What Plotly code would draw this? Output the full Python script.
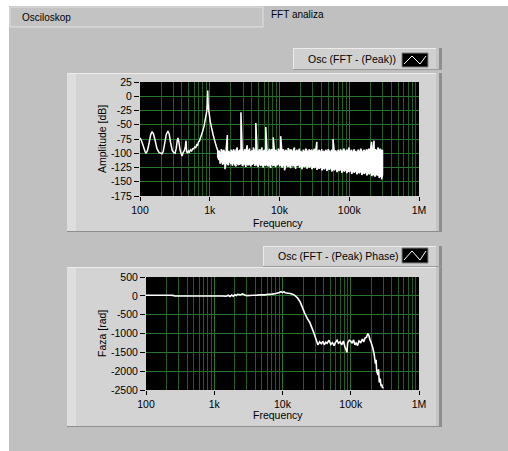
import plotly.graph_objects as go

# ---------------- data ----------------
# Amplitude spectrum, low-frequency part (Hz, dB)
amp_freq_low = [100, 105, 112, 118, 122, 128, 135, 142, 149, 156, 165, 175, 188, 200, 207, 215,
                225, 238, 252, 262, 275, 290, 305, 318, 330, 342, 350, 360, 375, 390, 400, 415,
                430, 445, 457, 465, 480, 495, 510, 530, 550, 570, 590, 610, 630, 650, 670, 690,
                710, 730, 750, 770, 790, 810, 830, 855, 880, 904, 920, 935, 948, 965, 985, 1020,
                1065, 1120, 1190, 1250]
amp_db_low = [-73, -78, -88, -97, -100, -95, -82, -68, -62, -66, -78, -92, -99, -100, -101, -97,
              -84, -67, -61, -66, -82, -95, -99, -100, -92, -78, -73, -79, -94, -101, -105, -99,
              -96, -90, -78, -97, -100, -96, -98, -94, -96, -92, -92, -89, -91, -85, -86, -80,
              -79, -74, -70, -66, -62, -57, -52, -43, -35, -27, -17, 10, -14, -25, -32, -45,
              -56, -68, -80, -89]

# Amplitude spectrum, noise floor part: frequency, upper and lower value of each bin group
noise_freq = [1300, 1350, 1400, 1460, 1520, 1580, 1650, 1720, 1790, 1860, 1940, 2020, 2100, 2190,
              2280, 2380, 2480, 2580, 2690, 2800, 2920, 3040, 3170, 3300, 3440, 3580, 3730, 3890,
              4050, 4220, 4400, 4580, 4770, 4970, 5180, 5400, 5620, 5860, 6100, 6360, 6620, 6900,
              7190, 7490, 7800, 8130, 8470, 8820, 9190, 9580, 9980, 10400, 10800, 11300, 11800,
              12300, 12800, 13300, 13900, 14500, 15100, 15700, 16400, 17100, 17800, 18500, 19300,
              20100, 20900, 21800, 22700, 23700, 24700, 25700, 26800, 27900, 29100, 30300, 31600,
              32900, 34300, 35700, 37200, 38800, 40400, 42100, 43900, 45700, 47600, 49600, 51700,
              53900, 56100, 58500, 60900, 63500, 66100, 68900, 71800, 74800, 77900, 81200, 84600,
              88100, 91800, 95700, 99700, 104000, 108000, 113000, 118000, 123000, 128000, 133000,
              139000, 145000, 151000, 157000, 164000, 171000, 178000, 185000, 193000, 201000,
              209000, 218000, 227000, 237000, 247000, 257000, 268000, 279000, 291000, 300000]
noise_hi = [-95, -95, -100, -93, -97, -94, -99, -92, -68, -96, -99, -94, -97, -93,
            -98, -95, -90, -97, -94, -28, -96, -99, -93, -97, -86, -96, -92, -98,
            -95, -90, -97, -47, -94, -98, -93, -96, -90, -97, -94, -54, -95, -99,
            -92, -96, -93, -72, -97, -94, -98, -92, -95, -70, -96, -93, -98,
            -94, -97, -91, -96, -93, -98, -95, -90, -97, -94, -98, -92,
            -96, -99, -94, -97, -92, -95, -99, -93, -96, -94, -98, -92,
            -96, -80, -97, -94, -99, -93, -96, -98, -94, -97, -93, -96,
            -99, -94, -75, -97, -95, -99, -94, -97, -93, -98, -95, -92,
            -97, -94, -96, -90, -97, -94, -98, -93, -96, -99, -94,
            -97, -92, -96, -99, -94, -97, -93, -96, -92, -95,
            -80, -94, -78, -93, -96, -90, -95, -92, -97, -94]
noise_lo = [-106, -112, -118, -115, -120, -117, -128, -116, -118, -121, -114, -119, -122, -116,
            -120, -123, -117, -121, -119, -118, -122, -120, -117, -124, -119, -121, -118, -123,
            -120, -117, -122, -119, -121, -124, -118, -122, -119, -125, -120, -121, -118, -123,
            -120, -126, -119, -122, -120, -124, -121, -118, -123, -120, -125, -121, -130,
            -122, -119, -124, -121, -126, -120, -123, -121, -127, -122, -120, -125,
            -122, -128, -121, -124, -122, -127, -123, -125, -122, -128, -124, -126,
            -123, -129, -125, -127, -124, -130, -126, -128, -125, -131, -127, -129,
            -126, -132, -128, -130, -127, -133, -129, -131, -128, -134, -130, -132,
            -129, -135, -131, -133, -130, -136, -132, -134, -131, -137, -133,
            -135, -132, -138, -134, -136, -133, -139, -135, -137, -134,
            -140, -136, -138, -141, -137, -139, -143, -140, -146, -138]

# Phase (Hz, rad as labelled)
phase_freq = [100, 120, 150, 180, 220, 250, 260, 300, 400, 500, 700, 1000, 1300, 1500, 1600,
              1700, 1800, 1900, 2000, 2100, 2200, 2400, 2600, 2800, 3000, 3300, 3700, 4200,
              4800, 5500, 6200, 7000, 8000, 9000, 9500, 10000, 10500, 11000, 12000, 13000,
              14000, 15000, 16500, 18000, 19500, 21000, 23000, 25000, 27000, 29000, 31000,
              33000, 35000, 37000, 39000, 41000, 43000, 45000, 48000, 51000, 54000, 57000,
              60000, 63000, 66000, 70000, 74000, 78000, 82000, 86000, 88000, 90000, 95000,
              100000, 105000, 110000, 115000, 120000, 126000, 132000, 140000, 148000, 155000,
              162000, 170000, 178000, 185000, 190000, 200000, 210000, 220000, 230000, 235000,
              240000, 250000, 255000, 262000, 270000, 278000, 285000, 292000, 298000]
phase_val = [15, 15, 14, 15, 14, 12, -5, -5, -6, -5, -6, -5, -5, -10, 15,
             -20, 20, -10, 30, 10, 40, 25, 50, 20, 5, 10, 15, 20,
             30, 25, 40, 45, 60, 90, 110, 85, 110, 80, 70, 60,
             40, 20, -50, -150, -300, -450, -600, -700, -850, -1000, -1150,
             -1300, -1220, -1270, -1210, -1300, -1230, -1260, -1180, -1290, -1240, -1320,
             -1230, -1180, -1260, -1220, -1300, -1200, -1350, -1450, -1500, -1250, -1180,
             -1200, -1260, -1170, -1300, -1250, -1320, -1200, -1240, -1150, -1220,
             -1120, -1100, -1000, -1060, -1150, -1250, -1380, -1550, -1800, -1700,
             -2000, -2100, -1950, -2300, -2200, -2400, -2350, -2450, -2420]

# Axis ticks
x_tick_vals = [100, 1000, 10000, 100000, 1000000]
x_tick_text = ["100", "1k", "10k", "100k", "1M"]
x_minor_vals = [m * d for d in (100, 1000, 10000, 100000) for m in range(2, 10)]
amp_tick_vals = [25, 0, -25, -50, -75, -100, -125, -150, -175]
amp_tick_text = ["25", "0", "-25", "-50", "-75", "-100", "-125", "-150", "-175"]
phase_tick_vals = [500, 0, -500, -1000, -1500, -2000, -2500]
phase_tick_text = ["500", "0", "-500", "-1000", "-1500", "-2000", "-2500"]

assert len(noise_freq) == len(noise_hi) == len(noise_lo)
assert len(amp_freq_low) == len(amp_db_low)
assert len(phase_freq) == len(phase_val)

# build the amplitude trace (min/max pairs for the dense noise part)
amp_x = list(amp_freq_low)
amp_y = list(amp_db_low)
for i, (f, hi, lo) in enumerate(zip(noise_freq, noise_hi, noise_lo)):
    amp_x += [f, f]
    amp_y += ([hi, lo] if i % 2 == 0 else [lo, hi])

# ---------------- figure ----------------
W, H = 508, 451
FONT = "Liberation Sans"
PANEL = "#c0c0c0"


def px(x):
    return x / W


def py(y):
    return 1 - y / H


shapes = []


def rect(x0, y0, x1, y1, fill, line=None, lw=1):
    shapes.append(dict(type="rect", xref="paper", yref="paper", layer="below",
                       x0=px(x0), x1=px(x1), y0=py(y1), y1=py(y0),
                       fillcolor=fill, line=dict(width=lw if line else 0, color=line or fill)))


def hline(x0, x1, y, color, lw=1):
    shapes.append(dict(type="line", xref="paper", yref="paper", layer="below",
                       x0=px(x0), x1=px(x1), y0=py(y), y1=py(y), line=dict(color=color, width=lw)))


def vline(x, y0, y1, color, lw=1):
    shapes.append(dict(type="line", xref="paper", yref="paper", layer="below",
                       x0=px(x), x1=px(x), y0=py(y0), y1=py(y1), line=dict(color=color, width=lw)))


# panel background
rect(9, 6, 508, 451, PANEL)
# tab header
rect(10, 7, 263, 27, "#c3c3c3", "#e2e2e2", 1)


def frame(x0, y0, x1, y1):
    rect(x0, y0, x1, y1, "#d3d3d3")
    rect(x0, y0, x0 + 9, y1, "#dedede")
    hline(x0, x1, y0 + 0.5, "#ececec")
    rect(x1 - 6, y0, x1 - 3, y1, "#c4c4c4")
    rect(x1 - 3, y0, x1, y1, "#8e8e8e")
    hline(x0, x1, y1 - 0.5, "#8e8e8e")


def legend_box(x0, y0, x1, y1):
    rect(x0, y0, x1, y1, "#d0d0d0")
    hline(x0, x1, y0 + 0.5, "#ececec")
    vline(x0 + 0.5, y0, y1, "#ececec")
    rect(x1 - 6, y0, x1 - 3, y1, "#c4c4c4")
    rect(x1 - 3, y0, x1, y1, "#8e8e8e")
    hline(x0, x1, y1 - 0.5, "#9a9a9a")


frame(67, 73, 442, 232)
frame(67, 267, 442, 427)
legend_box(293, 48, 442, 70)
legend_box(263, 246, 442, 267)

# black plot areas
rect(140, 82, 419, 196, "black")
rect(146, 277, 419, 390, "black")


def icon(x0, y0, x1, y1):
    shapes.append(dict(type="rect", xref="paper", yref="paper", layer="above",
                       x0=px(x0), x1=px(x1), y0=py(y1), y1=py(y0),
                       fillcolor="black", line=dict(width=1, color="#808080")))
    xs = [x0 + 2, x0 + 10, x0 + 18, x1 - 2]
    ys = [y1 - 3, y0 + 3, y1 - 3, y0 + 3]
    path = "M " + " L ".join(f"{px(a)},{py(b)}" for a, b in zip(xs, ys))
    shapes.append(dict(type="path", xref="paper", yref="paper", layer="above", path=path,
                       line=dict(color="white", width=1)))


icon(402, 53, 428, 67)
icon(402, 248, 428, 263)

annotations = []


def text(x, y, s, angle=0, size=10, xanchor="left"):
    annotations.append(dict(x=px(x), y=py(y), xref="paper", yref="paper", text=s,
                            showarrow=False, textangle=angle, xanchor=xanchor, yanchor="middle",
                            font=dict(family=FONT, size=size, color="black")))


text(20, 17, "Osciloskop")
text(269, 15, "FFT analiza")
text(306, 59, "Osc (FFT - (Peak))", size=10.5)
text(276, 256, "Osc (FFT - (Peak) Phase)", size=10.5)
text(102, 139, "Amplitude [dB]", angle=-90, xanchor="center", size=10.5)
text(102, 334, "Faza [rad]", angle=-90, xanchor="center", size=10.5)
text(278, 223, "Frequency", xanchor="center", size=10.5)
text(278, 415, "Frequency", xanchor="center", size=10.5)

fig = go.Figure()
fig.add_trace(go.Scatter(x=amp_x, y=amp_y, mode="lines",
                         line=dict(color="white", width=1.5, simplify=False),
                         xaxis="x", yaxis="y", showlegend=False, hoverinfo="skip"))
fig.add_trace(go.Scatter(x=phase_freq, y=phase_val, mode="lines",
                         line=dict(color="white", width=1.6, simplify=False),
                         xaxis="x2", yaxis="y2", showlegend=False, hoverinfo="skip"))

GRID_MAJOR = "#2a732a"
GRID_MINOR = "#225e22"


def xaxis_cfg(x0, x1, anchor):
    return dict(type="log", range=[2, 6], domain=[px(x0), px(x1)], anchor=anchor,
                tickmode="array", tickvals=x_tick_vals, ticktext=x_tick_text,
                ticks="outside", ticklen=4, tickwidth=1, tickcolor="black",
                showgrid=True, gridcolor=GRID_MAJOR, gridwidth=1,
                minor=dict(tickmode="array", tickvals=x_minor_vals, showgrid=True,
                           gridcolor=GRID_MINOR, gridwidth=1, ticks=""),
                showline=False, zeroline=False, fixedrange=True, automargin=False,
                tickfont=dict(family=FONT, size=10.5, color="black"))


def yaxis_cfg(y0, y1, anchor, rng, vals, txt):
    return dict(range=rng, domain=[py(y1), py(y0)], anchor=anchor,
                tickmode="array", tickvals=vals, ticktext=txt,
                ticks="outside", ticklen=5, tickwidth=1, tickcolor="black",
                showgrid=True, gridcolor=GRID_MAJOR, gridwidth=1,
                showline=False, zeroline=False, fixedrange=True, automargin=False,
                tickfont=dict(family=FONT, size=10.5, color="black"))


fig.update_layout(
    template="none",
    width=W, height=H, autosize=False,
    margin=dict(l=0, r=0, t=0, b=0, pad=0, autoexpand=False),
    paper_bgcolor="white", plot_bgcolor="black",
    showlegend=False,
    xaxis=xaxis_cfg(140, 419, "y"),
    yaxis=yaxis_cfg(82, 196, "x", [-175, 25], amp_tick_vals, amp_tick_text),
    xaxis2=xaxis_cfg(146, 419, "y2"),
    yaxis2=yaxis_cfg(277, 390, "x2", [-2500, 500], phase_tick_vals, phase_tick_text),
    shapes=shapes,
    annotations=annotations,
)

# put the figure at the window's top-left corner (no default body margin)
page_js = ("document.body.style.margin='0px';"
           "document.documentElement.style.background='#ffffff';"
           "var gd=document.getElementById('{plot_id}');"
           "gd.style.position='absolute';gd.style.left='0px';gd.style.top='0px';")

fig.write_html("out.html", config={"displayModeBar": False}, post_script=page_js)
